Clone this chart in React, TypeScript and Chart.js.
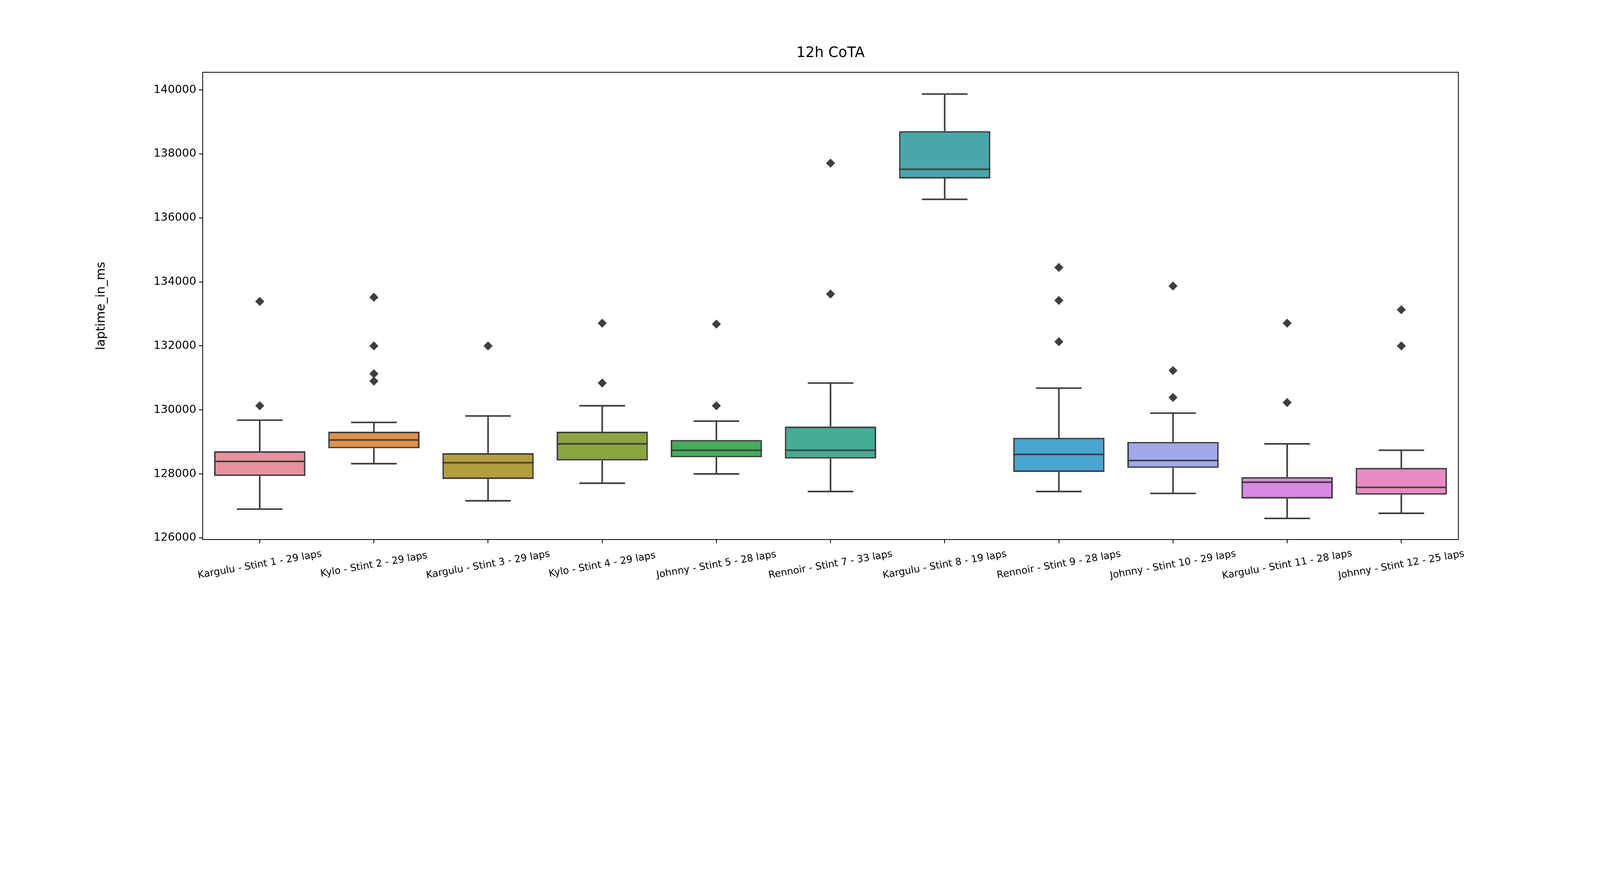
import React, { useEffect, useRef } from "react";
import { Chart, registerables } from "chart.js";
Chart.register(...registerables);

const categories = [
  "Kargulu - Stint 1 - 29 laps", "Kylo - Stint 2 - 29 laps", "Kargulu - Stint 3 - 29 laps",
  "Kylo - Stint 4 - 29 laps", "Johnny - Stint 5 - 28 laps", "Rennoir - Stint 7 - 33 laps",
  "Kargulu - Stint 8 - 19 laps", "Rennoir - Stint 9 - 28 laps", "Johnny - Stint 10 - 29 laps",
  "Kargulu - Stint 11 - 28 laps", "Johnny - Stint 12 - 25 laps",
];
const whiskerLow = [126900, 128320, 127160, 127710, 128000, 127450, 136580, 127450, 127390, 126610, 126770];
const q1 = [127935, 128800, 127840, 128420, 128520, 128480, 137230, 128060, 128190, 127230, 127350];
const median = [128390, 129060, 128350, 128940, 128740, 128740, 137520, 128610, 128420, 127740, 127580];
const q3 = [128710, 129320, 128650, 129320, 129060, 129480, 138710, 129130, 129000, 127900, 128190];
const whiskerHigh = [129680, 129610, 129810, 130130, 129650, 130840, 139870, 130680, 129900, 128940, 128740];
const outliers: number[][] = [
  [130130, 133390], [130900, 131130, 132000, 133520], [132000], [130840, 132710],
  [130130, 132680], [133620, 137710], [], [132130, 133420, 134450],
  [130390, 131230, 133870], [130230, 132710], [132000, 133130],
];
const colors = ["#E8919C", "#E0904A", "#B39E3E", "#8CA541", "#44AC5B", "#45AD94", "#48A7AD", "#4AA5CF", "#A1A9EC", "#D88AE2", "#E88AC4"];
const yTicks = [126000, 128000, 130000, 132000, 134000, 136000, 138000, 140000];
const title = "12h CoTA";
const yTitle = "laptime_in_ms";

const EDGE = "#3f3f3f";
const FONT = "'DejaVu Sans', sans-serif";

export default function App() {
  const ref = useRef<HTMLCanvasElement>(null);
  const W = window.innerWidth || 6000;
  const H = Math.round((W * 2250) / 6000);
  const k = W / 6000;
  useEffect(() => {
    const boxPlugin = {
      id: "boxes",
      afterDatasetsDraw(chart: any) {
        const ctx = chart.ctx;
        const y = chart.scales.y;
        const x = chart.scales.x;
        const meta = chart.getDatasetMeta(0);
        const ca = chart.chartArea;
        ctx.save();
        ctx.strokeStyle = EDGE;
        ctx.lineWidth = 6 * k;
        meta.data.forEach((bar: any, i: number) => {
          const cx = bar.x;
          const hw = bar.width / 2;
          const yl = y.getPixelForValue(whiskerLow[i]);
          const yh = y.getPixelForValue(whiskerHigh[i]);
          const y1 = y.getPixelForValue(q1[i]);
          const y3 = y.getPixelForValue(q3[i]);
          const ym = y.getPixelForValue(median[i]);
          ctx.beginPath();
          ctx.moveTo(cx, y1); ctx.lineTo(cx, yl);
          ctx.moveTo(cx, y3); ctx.lineTo(cx, yh);
          ctx.moveTo(cx - hw / 2, yl); ctx.lineTo(cx + hw / 2, yl);
          ctx.moveTo(cx - hw / 2, yh); ctx.lineTo(cx + hw / 2, yh);
          ctx.moveTo(cx - hw, ym); ctx.lineTo(cx + hw, ym);
          ctx.stroke();
        });
        ctx.strokeStyle = "#000";
        ctx.lineWidth = 3 * k;
        ctx.strokeRect(ca.left, ca.top, ca.right - ca.left, ca.bottom - ca.top);
        ctx.fillStyle = "#000";
        ctx.font = `${37 * k}px ${FONT}`;
        ctx.textAlign = "center";
        ctx.textBaseline = "middle";
        categories.forEach((c, i) => {
          const px = x.getPixelForValue(i);
          ctx.save();
          ctx.translate(px, ca.bottom + 95 * k);
          ctx.rotate(-10 * Math.PI / 180);
          ctx.fillText(c, 0, 0);
          ctx.restore();
        });
        ctx.font = `${54 * k}px ${FONT}`;
        ctx.fillText(title, (ca.left + ca.right) / 2, 200 * k);
        ctx.font = `${46 * k}px ${FONT}`;
        ctx.save();
        ctx.translate(380 * k, (ca.top + ca.bottom) / 2);
        ctx.rotate(-Math.PI / 2);
        ctx.fillText(yTitle, 0, 0);
        ctx.restore();
        ctx.restore();
      },
    };
    const outlierData: any[] = [];
    outliers.forEach((arr, i) => arr.forEach((v) => outlierData.push({ x: categories[i], y: v })));
    const chart = new Chart(ref.current!, {
      type: "bar",
      data: {
        labels: categories,
        datasets: [
          {
            type: "bar",
            data: categories.map((_, i) => [q1[i], q3[i]]) as any,
            backgroundColor: colors,
            borderColor: EDGE,
            borderWidth: 6 * k,
            borderSkipped: false,
            barPercentage: 0.8,
            categoryPercentage: 1,
          } as any,
          {
            type: "line",
            data: outlierData,
            showLine: false,
            pointStyle: "rectRot",
            pointRadius: 17 * k,
            pointBackgroundColor: EDGE,
            pointBorderColor: EDGE,
            pointBorderWidth: 0,
          } as any,
        ],
      },
      options: {
        responsive: false,
        animation: false,
        layout: { padding: { top: 271 * k, right: 531 * k, left: 0, bottom: 0 } },
        plugins: { legend: { display: false }, tooltip: { enabled: false }, title: { display: false } },
        scales: {
          x: {
            type: "category",
            grid: { offset: false, drawOnChartArea: false, drawTicks: true, tickLength: 14 * k, tickColor: "#000", lineWidth: 3 * k },
            border: { display: false },
            ticks: { display: false },
            afterFit(s: any) { s.height = 227 * k; },
          },
          y: {
            min: 125950,
            max: 140550,
            grid: { drawOnChartArea: false, drawTicks: true, tickLength: 14 * k, tickColor: "#000", lineWidth: 3 * k },
            border: { display: false },
            ticks: { color: "#000", font: { size: 42 * k, family: FONT }, padding: 10 * k, callback: (v: any) => String(v) },
            afterBuildTicks(s: any) { s.ticks = yTicks.map((v) => ({ value: v })); },
            afterFit(s: any) { s.width = 760 * k; },
          },
        },
      } as any,
      plugins: [boxPlugin],
    });
    return () => chart.destroy();
  }, []);
  return (
    <div style={{ position: "absolute", left: 0, top: 0, width: W, height: H, background: "#fff" }}>
      <canvas ref={ref} style={{ width: W, height: H }} width={W} height={H} />
    </div>
  );
}
